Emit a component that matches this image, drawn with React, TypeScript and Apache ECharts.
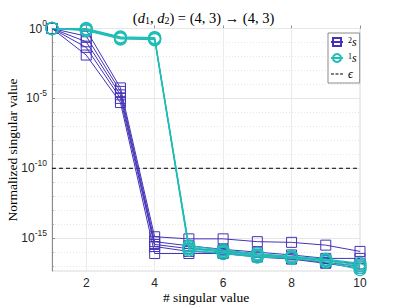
import React, { useEffect, useRef } from "react";
import * as echarts from "echarts";

// x positions (# singular value)
const xValues = [1, 2, 3, 4, 5, 6, 7, 8, 9, 10];
const xTickValues = [2, 4, 6, 8, 10];

// log10 of normalized singular values
// series "2s" (purple squares), five runs
const s2Run1 = [0, -0.1, -4.25, -14.9, -15.05, -15.05, -15.25, -15.3, -15.5, -15.95];
const s2Run2 = [0, -0.55, -4.5, -15.25, -15.55, -15.8, -16.0, -16.2, -16.45, -16.45];
const s2Run3 = [0, -0.95, -4.75, -15.45, -15.75, -15.9, -16.2, -16.35, -16.6, -16.85];
const s2Run4 = [0, -1.35, -5.0, -15.6, -15.95, -16.05, -16.3, -16.45, -16.75, -17.0];
const s2Run5 = [0, -1.9, -5.3, -16.1, -16.1, -16.1, -16.35, -16.5, -16.8, -17.15];

// series "1s" (teal circles), four runs
const s1Run1 = [0, 0, -0.6, -0.65, -15.55, -15.85, -16.1, -16.3, -16.5, -16.8];
const s1Run2 = [0, -0.05, -0.65, -0.7, -15.65, -15.95, -16.2, -16.35, -16.55, -16.95];
const s1Run3 = [0, -0.1, -0.7, -0.75, -15.75, -16.0, -16.3, -16.4, -16.6, -17.1];
const s1Run4 = [0, -0.15, -0.75, -0.8, -15.85, -16.1, -16.35, -16.45, -16.7, -17.25];

// epsilon threshold (log10)
const epsLog10 = -10;

// y tick exponents: labelled majors and every decade (minor grid)
const yMajorExponents = [-15, -10, -5, 0];
const yDecadeExponents = [-17, -16, -15, -14, -13, -12, -11, -10, -9, -8, -7, -6, -5, -4, -3, -2, -1, 0];

// axis titles
const xTitle = "# singular value";
const yTitle = "Normalized singular value";

// axis ranges (log10 for y)
const yMinLog = -17.35;
const yMaxLog = 0;
const xMin = 1;
const xMax = 10;

const purple = "#4433b8";
const teal = "#1fbdb6";
const serif = "Liberation Serif";
const sans = "Liberation Sans";

export default function App() {
  const ref = useRef<HTMLDivElement>(null);
  useEffect(() => {
    if (!ref.current) return;
    const chart = echarts.init(ref.current, undefined, { renderer: "svg" });

    const mk = (vals: number[]) => vals.map((v, i) => [xValues[i], v]);

    const s2Runs = [s2Run1, s2Run2, s2Run3, s2Run4, s2Run5];
    const s1Runs = [s1Run1, s1Run2, s1Run3, s1Run4];

    const series: any[] = [];
    s2Runs.forEach((r) =>
      series.push({
        name: "s2",
        type: "line",
        data: mk(r),
        symbol: "rect",
        symbolSize: 10,
        showAllSymbol: true,
        clip: false,
        lineStyle: { color: purple, width: 1 },
        itemStyle: { color: "rgba(0,0,0,0)", borderColor: purple, borderWidth: 1 },
        z: 2,
      })
    );
    s1Runs.forEach((r) =>
      series.push({
        name: "s1",
        type: "line",
        data: mk(r),
        symbol: "circle",
        symbolSize: 12,
        showAllSymbol: true,
        clip: false,
        lineStyle: { color: teal, width: 1.2 },
        itemStyle: { color: "rgba(0,0,0,0)", borderColor: teal, borderWidth: 1.2 },
        z: 3,
      })
    );
    series.push({
      name: "eps",
      type: "line",
      data: [
        [xMin, epsLog10],
        [xMax, epsLog10],
      ],
      symbol: "none",
      lineStyle: { color: "#000", width: 1, type: [4, 3] },
      z: 1,
    });

    const legendText: Record<string, string> = {
      s2: "{sup|2}{it|s}",
      s1: "{sup|1}{it|s}",
      eps: "{it|\u03f5}",
    };

    const axisCommon = {
      type: "value",
      min: yMinLog,
      max: yMaxLog,
      position: "left",
    };

    chart.setOption({
      animation: false,
      backgroundColor: "#fff",
      title: {
        left: "center",
        top: 5,
        text: "({it|d}{sub|1}, {it|d}{sub|2}) = (4, 3) \u2192 (4, 3)",
        textStyle: {
          fontFamily: serif,
          fontSize: 14.5,
          fontWeight: "normal",
          color: "#000",
          rich: {
            it: { fontFamily: serif, fontStyle: "italic", fontSize: 14.5, color: "#000" },
            sub: { fontFamily: serif, fontSize: 10, color: "#000", verticalAlign: "bottom", lineHeight: 12 },
          },
        },
      },
      graphic: [
        {
          type: "text",
          x: 206,
          y: 297,
          style: {
            text: xTitle,
            fontFamily: serif,
            fontSize: 13.5,
            fill: "#000",
            align: "center",
            verticalAlign: "middle",
          },
        },
        {
          type: "text",
          x: 12,
          y: 150,
          rotation: Math.PI / 2,
          style: {
            text: yTitle,
            fontFamily: serif,
            fontSize: 13.5,
            fill: "#000",
            align: "center",
            verticalAlign: "middle",
          },
        },
      ],
      grid: {
        left: 52,
        right: 47,
        top: 28.5,
        bottom: 34,
        show: true,
        borderColor: "#d9d9d9",
        borderWidth: 1,
      },
      legend: {
        left: 328,
        top: 33,
        orient: "vertical",
        itemWidth: 12,
        itemHeight: 10,
        itemGap: 4,
        padding: [3, 3, 3, 2],
        borderColor: "#8c8c8c",
        borderWidth: 1,
        backgroundColor: "#fff",
        data: [
          { name: "s2" },
          { name: "s1" },
          {
            name: "eps",
            icon: "path://M0,0h0.05v0.05h-0.05zM12,10h-0.05v-0.05h0.05zM0,4.5h3v1h-3zM4.5,4.5h3v1h-3zM9,4.5h3v1h-3z",
            itemStyle: { color: "#000" },
          },
        ],
        formatter: (n: string) => legendText[n] || n,
        textStyle: {
          fontFamily: serif,
          fontSize: 12,
          color: "#000",
          rich: {
            it: { fontFamily: serif, fontStyle: "italic", fontSize: 12, color: "#000" },
            sup: { fontFamily: serif, fontSize: 8, color: "#000", verticalAlign: "top", lineHeight: 8 },
          },
        },
      },
      xAxis: {
        type: "value",
        min: xMin,
        max: xMax,
        axisLine: { show: true, lineStyle: { color: "#8c8c8c", width: 1 } },
        axisTick: {
          show: true,
          inside: true,
          length: 3,
          customValues: xTickValues,
          lineStyle: { color: "#8c8c8c" },
        },
        axisLabel: {
          customValues: xTickValues,
          fontFamily: sans,
          fontSize: 12,
          color: "#262626",
          margin: 6,
        },
        splitLine: { show: true, lineStyle: { color: "#ebebeb", width: 1 } },
      },
      yAxis: [
        {
          ...axisCommon,
          axisLine: { show: true, lineStyle: { color: "#8c8c8c", width: 1 } },
          axisTick: {
            show: true,
            inside: true,
            length: 3,
            customValues: yMajorExponents,
            lineStyle: { color: "#8c8c8c" },
          },
          axisLabel: {
            customValues: yMajorExponents,
            formatter: (v: number) => `{b|10}{sup|${v}}`,
            margin: 5,
            rich: {
              b: { fontFamily: sans, fontSize: 12, color: "#262626", lineHeight: 20 },
              sup: { fontFamily: sans, fontSize: 8.5, color: "#262626", verticalAlign: "top", lineHeight: 9 },
            },
          },
          splitLine: { show: true, lineStyle: { color: "#e6e6e6", width: 1 } },
          z: 1,
        },
        {
          ...axisCommon,
          axisLine: { show: false },
          axisTick: {
            show: true,
            inside: true,
            length: 2,
            customValues: yDecadeExponents,
            lineStyle: { color: "#b0b0b0" },
          },
          axisLabel: { show: false },
          splitLine: { show: true, lineStyle: { color: "#e6e6e6", width: 1, type: [1, 2] } },
          z: 0,
        },
      ],
      series,
    });
    return () => chart.dispose();
  }, []);
  return (
    <div
      ref={ref}
      style={{ position: "fixed", left: 0, top: 0, width: 407, height: 305 }}
    />
  );
}
